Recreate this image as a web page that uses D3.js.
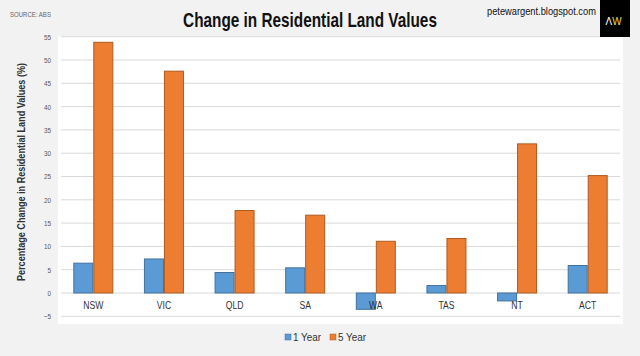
<!DOCTYPE html>
<html><head><meta charset="utf-8">
<script src="https://cdn.jsdelivr.net/npm/d3@7"></script>
<style>
html,body{margin:0;padding:0;background:#f2f2f2;}
svg{display:block;}
</style></head>
<body>
<script>
const categories = ["NSW","VIC","QLD","SA","WA","TAS","NT","ACT"];
const series = ["1 Year","5 Year"];
const oneYear = [6.4, 7.3, 4.4, 5.4, -3.5, 1.6, -1.7, 5.9];
const fiveYear = [53.8, 47.6, 17.7, 16.7, 11.1, 11.7, 32.0, 25.2];
const yTicks = [-5,0,5,10,15,20,25,30,35,40,45,50,55];
const colors = ["#5b9bd5","#ed7d31"];
const strokes = ["#41719c","#ae5a21"];

const W=640,H=356;
const FONT = "'Liberation Sans','Arial',sans-serif";
const svg = d3.select("body").append("svg").attr("width",W).attr("height",H);
svg.append("rect").attr("width",W).attr("height",H).attr("fill","#f2f2f2");

function narrow(sel, f){
  sel.each(function(){
    const w = this.getComputedTextLength();
    d3.select(this).attr("textLength", w*(f||0.82)).attr("lengthAdjust","spacingAndGlyphs");
  });
}
// place a text at (x,y) compressed horizontally to a target width via transform
function squeezed(parent, x, y, width, anchor){
  const g = parent.append("g");
  const t = g.append("text").attr("x",0).attr("y",0);
  return {t, fit(){
    const w = t.node().getComputedTextLength();
    const s = width/w;
    t.attr("text-anchor", anchor||"start");
    g.attr("transform",`translate(${x},${y}) scale(${s},1)`);
  }};
}

const plot = {l:58,r:623,t:36,b:324};
const x = d3.scaleBand().domain(categories).range([plot.l,plot.r]).paddingInner(0).paddingOuter(0);
const y = d3.scaleLinear().domain([-5,55]).range([316.3,36.7]);
const xs = d3.scaleBand().domain(series).range([0,40]);
const off = (x.bandwidth()-40)/2;

svg.append("rect").attr("x",plot.l).attr("y",plot.t).attr("width",plot.r-plot.l).attr("height",plot.b-plot.t).attr("fill","#ffffff");

svg.append("g").selectAll("line").data(yTicks).join("line")
  .attr("x1",plot.l+3).attr("x2",plot.r-3)
  .attr("y1",d=>y(d)).attr("y2",d=>y(d))
  .attr("stroke","#d9d9d9").attr("stroke-width",1);

const yAxis = d3.axisLeft(y).tickValues(yTicks).tickSize(0).tickPadding(0);
const gy = svg.append("g").attr("transform",`translate(51,0)`).call(yAxis);
gy.select(".domain").remove();
gy.selectAll("text").attr("font-family",FONT).attr("font-size",7.5).attr("fill","#595959");
narrow(gy.selectAll("text"),0.85);

const data = categories.map((c,i)=>({c,vals:[oneYear[i],fiveYear[i]]}));
const g = svg.append("g");
data.forEach(d=>{
  d.vals.forEach((v,si)=>{
    g.append("rect")
      .attr("x",x(d.c)+off+xs(series[si])+0.5)
      .attr("y",Math.min(y(v),y(0)))
      .attr("width",xs.bandwidth()-1)
      .attr("height",Math.abs(y(v)-y(0)))
      .attr("fill",colors[si]).attr("stroke",strokes[si]).attr("stroke-width",1);
  });
});

const xAxis = d3.axisBottom(x).tickSize(0).tickPadding(0);
const gx = svg.append("g").attr("transform",`translate(0,302)`).call(xAxis);
gx.select(".domain").remove();
gx.selectAll("text").attr("font-family",FONT).attr("font-size",10.5).attr("fill","#333");
narrow(gx.selectAll("text"),0.82);

const yt = svg.append("text").attr("transform","translate(25,172) rotate(-90)")
  .attr("text-anchor","middle").attr("font-family",FONT).attr("font-size",10)
  .attr("font-weight","bold").attr("fill","#333")
  .text("Percentage Change in Residential Land Values (%)");
yt.attr("textLength",218).attr("lengthAdjust","spacingAndGlyphs");

// title
const tt = squeezed(svg, 310, 27, 254, "middle");
tt.t.attr("font-family",FONT).attr("font-weight","bold").attr("font-size",21).attr("fill","#111")
  .text("Change in Residential Land Values");
tt.fit();

const st = squeezed(svg, 10, 17, 41, "start");
st.t.attr("font-family",FONT).attr("font-size",8).attr("fill","#666").text("SOURCE: ABS");
st.fit();

const pt = squeezed(svg, 487, 15, 109, "start");
pt.t.attr("font-family",FONT).attr("font-size",11).attr("fill","#111").text("petewargent.blogspot.com");
pt.fit();

// logo
svg.append("rect").attr("x",600).attr("y",0).attr("width",30).attr("height",37).attr("fill","#000");
const lg = squeezed(svg, 613.5, 25, 16, "middle");
lg.t.attr("font-family",FONT).attr("font-size",11);
lg.t.append("tspan").attr("fill","#ffffff").text("Λ");
lg.t.append("tspan").attr("fill","#e6dc3c").text("W");
lg.fit();

// legend
const leg = svg.append("g");
const legX = [285,330];
series.forEach((s,i)=>{
  leg.append("rect").attr("x",legX[i]).attr("y",334).attr("width",6).attr("height",6)
    .attr("fill",colors[i]).attr("stroke",strokes[i]).attr("stroke-width",0.5);
  leg.append("text").attr("x",legX[i]+8).attr("y",341).attr("font-family",FONT)
    .attr("font-size",11).attr("fill","#333")
    .attr("textLength",28).attr("lengthAdjust","spacingAndGlyphs").text(s);
});
</script>
</body></html>
